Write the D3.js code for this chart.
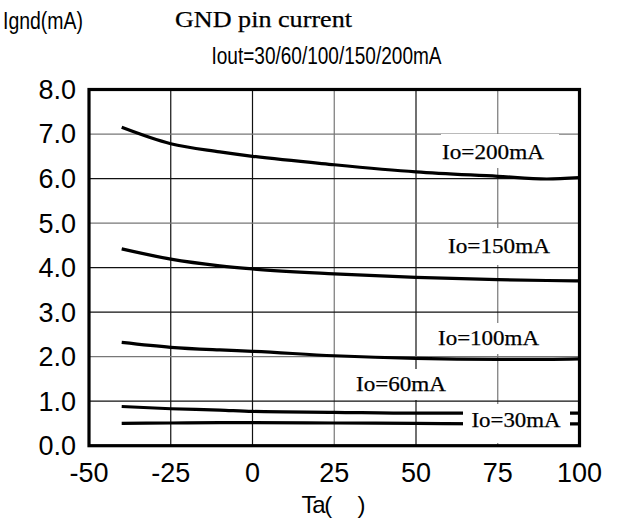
<!DOCTYPE html>
<meta charset='utf-8'>
<head>
  <title>GND pin current</title>
  <style>
    body { margin: 0; background: #fff; }
    svg { display: block; }
  </style>
</head>
<body>
  <div id='chart'></div>
</body>
<script src='https://cdn.jsdelivr.net/npm/d3@7'></script>
<script>

// data (temperature in degC, current in mA)
var temps = [-40, -25, -10, 0, 25, 50, 75, 90, 100];
var io200 = [7.15, 6.78, 6.60, 6.50, 6.31, 6.15, 6.05, 5.99, 6.02];
var io150 = [4.42, 4.19, 4.04, 3.97, 3.86, 3.78, 3.73, 3.71, 3.70];
var io100 = [2.32, 2.21, 2.15, 2.12, 2.02, 1.96, 1.94, 1.94, 1.95];
var io60  = [0.88, 0.83, 0.80, 0.77, 0.75, 0.73, 0.73, 0.73, 0.73];
var io30  = [0.50, 0.51, 0.52, 0.52, 0.51, 0.50, 0.49, 0.49, 0.49];

var seriesNames = ['Io=200mA', 'Io=150mA', 'Io=100mA', 'Io=60mA', 'Io=30mA'];
var seriesValues = [io200, io150, io100, io60, io30];

var xTicks = [-50, -25, 0, 25, 50, 75, 100];
var yTicks = [0, 1, 2, 3, 4, 5, 6, 7, 8];
var darkX = [-25, 0, 50];
var darkY = [1, 3, 4, 6];

// note: "top" is taken by window.top, so the plot edges get their own names
var width = 619,
    height = 520,
    plotLeft = 89,
    plotRight = 579.5,
    plotTop = 89.5,
    plotBottom = 445.7;

var x = d3.scaleLinear().domain([-50, 100]).range([plotLeft, plotRight]);
var y = d3.scaleLinear().domain([0, 8]).range([plotBottom, plotTop]);

var svg = d3.select('#chart').append('svg')
    .attr('width', width)
    .attr('height', height);

// grid
svg.append('g')
  .selectAll('line')
    .data(xTicks.slice(1, -1))
  .enter().append('line')
    .attr('x1', function(d) { return x(d); })
    .attr('x2', function(d) { return x(d); })
    .attr('y1', plotTop)
    .attr('y2', plotBottom)
    .attr('stroke', function(d) { return darkX.indexOf(d) >= 0 ? '#111' : '#777'; })
    .attr('stroke-width', 1.2);

svg.append('g')
  .selectAll('line')
    .data(yTicks.slice(1, -1))
  .enter().append('line')
    .attr('x1', plotLeft)
    .attr('x2', plotRight)
    .attr('y1', function(d) { return y(d); })
    .attr('y2', function(d) { return y(d); })
    .attr('stroke', function(d) { return darkY.indexOf(d) >= 0 ? '#111' : '#777'; })
    .attr('stroke-width', 1.2);

// curves
var line = d3.line()
    .x(function(d, i) { return x(temps[i]); })
    .y(function(d) { return y(d); })
    .curve(d3.curveMonotoneX);

svg.append('g')
  .selectAll('path')
    .data(seriesValues)
  .enter().append('path')
    .attr('d', line)
    .attr('fill', 'none')
    .attr('stroke', '#000')
    .attr('stroke-width', 3.2);

// series labels sit on white boxes that break the grid
var labelPos = [
  { x: 442, y: 159, w: 102, box: [441, 134, 118, 34] },
  { x: 448, y: 252.5, w: 102, box: [440, 228, 120, 37] },
  { x: 438, y: 345, w: 101, box: [432, 323, 112, 31] },
  { x: 356, y: 391, w: 90, box: [350, 369, 102, 31] },
  { x: 471.5, y: 426.5, w: 89, box: [463, 404, 107, 39] }
];

var labels = svg.append('g')
  .selectAll('g')
    .data(seriesNames)
  .enter().append('g');

labels.append('rect')
    .attr('x', function(d, i) { return labelPos[i].box[0]; })
    .attr('y', function(d, i) { return labelPos[i].box[1]; })
    .attr('width', function(d, i) { return labelPos[i].box[2]; })
    .attr('height', function(d, i) { return labelPos[i].box[3]; })
    .attr('fill', '#fff');

labels.append('text')
    .attr('x', function(d, i) { return labelPos[i].x; })
    .attr('y', function(d, i) { return labelPos[i].y; })
    .attr('textLength', function(d, i) { return labelPos[i].w; })
    .attr('lengthAdjust', 'spacingAndGlyphs')
    .style('font-family', "'Liberation Serif', 'DejaVu Serif', serif")
    .style('font-size', '21px')
    .style('stroke', '#000')
    .style('stroke-width', 0.25)
    .text(function(d) { return d; });

// frame
svg.append('rect')
    .attr('x', plotLeft)
    .attr('y', plotTop)
    .attr('width', plotRight - plotLeft)
    .attr('height', plotBottom - plotTop)
    .attr('fill', 'none')
    .attr('stroke', '#000')
    .attr('stroke-width', 3.2);

// tick labels
svg.append('g')
  .selectAll('text')
    .data(yTicks)
  .enter().append('text')
    .attr('x', 76)
    .attr('y', function(d) { return y(d); })
    .attr('dy', '0.35em')
    .attr('text-anchor', 'end')
    .style('font-family', "'Liberation Sans', Arial, sans-serif")
    .style('font-size', '27px')
    .text(function(d) { return d3.format('.1f')(d); });

svg.append('g')
  .selectAll('text')
    .data(xTicks)
  .enter().append('text')
    .attr('x', function(d) { return x(d); })
    .attr('y', 481.5)
    .attr('text-anchor', 'middle')
    .style('font-family', "'Liberation Sans', Arial, sans-serif")
    .style('font-size', '27px')
    .text(function(d) { return d; });

// titles
svg.append('text')
    .attr('x', 175)
    .attr('y', 27)
    .attr('textLength', 177)
    .attr('lengthAdjust', 'spacingAndGlyphs')
    .style('font-family', "'Liberation Serif', 'DejaVu Serif', serif")
    .style('font-size', '23px')
    .style('stroke', '#000')
    .style('stroke-width', 0.25)
    .text('GND pin current');

svg.append('text')
    .attr('x', 3)
    .attr('y', 29)
    .attr('textLength', 80)
    .attr('lengthAdjust', 'spacingAndGlyphs')
    .style('font-family', "'Liberation Sans', Arial, sans-serif")
    .style('font-size', '23px')
    .text('Ignd(mA)');

svg.append('text')
    .attr('x', 211.5)
    .attr('y', 64)
    .attr('textLength', 230)
    .attr('lengthAdjust', 'spacingAndGlyphs')
    .style('font-family', "'Liberation Sans', Arial, sans-serif")
    .style('font-size', '23px')
    .text('Iout=30/60/100/150/200mA');

svg.append('text')
    .attr('x', 301.5)
    .attr('y', 512.5)
    .attr('textLength', 64)
    .attr('lengthAdjust', 'spacing')
    .style('font-family', "'Liberation Sans', Arial, sans-serif")
    .style('font-size', '24px')
    .style('white-space', 'pre')
    .text('Ta(     )');

</script>
